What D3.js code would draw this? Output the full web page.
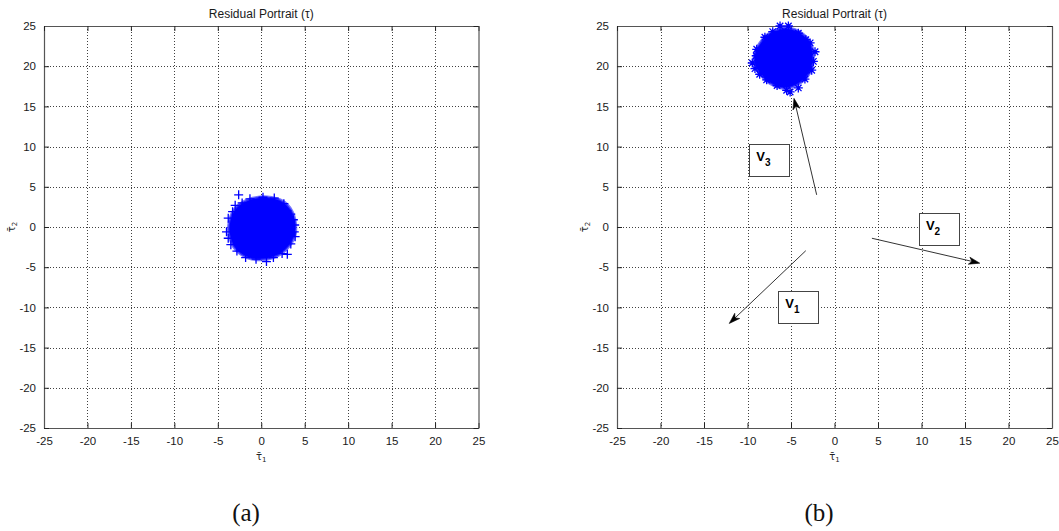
<!DOCTYPE html>
<html>
<head>
<meta charset="utf-8">
<script src="https://cdn.jsdelivr.net/npm/d3@7"></script>
<style>
  body { margin: 0; background: #fff; }
  svg { display: block; }
  text { font-family: Arial, "Liberation Sans", sans-serif; }
</style>
</head>
<body>
<svg id="fig" width="1059" height="531"></svg>
<script>
// ---- data -------------------------------------------------------------
const tickValues = [-25, -20, -15, -10, -5, 0, 5, 10, 15, 20, 25];
const axisDomain = [-25, 25];
const panelTitles = ["Residual Portrait (\u03c4)", "Residual Portrait (\u03c4)"];
const panelCaptions = ["(a)", "(b)"];

// (a) residual cloud: outline of the saturated core and individual '+' samples
const coreA = [
  [4.0,-0.2],[3.9,0.9],[3.6,1.9],[3.0,2.8],[2.2,3.4],[1.2,3.7],[0.1,3.8],[-1.0,3.6],
  [-2.0,3.2],[-2.8,2.6],[-3.4,1.7],[-3.7,0.7],[-3.8,-0.4],[-3.6,-1.5],[-3.2,-2.5],
  [-2.5,-3.3],[-1.5,-3.9],[-0.4,-4.1],[0.8,-4.0],[1.9,-3.6],[2.8,-2.9],[3.5,-2.0],[3.9,-1.1]
];
const samplesA = [
  [-2.6,4.0],[-3.0,2.7],[-3.8,1.1],[-4.0,-0.6],[-3.8,-1.4],[3.0,-3.4],[0.6,-4.3],
  [3.85,0.25],[3.8,-0.6],[3.4,1.6],[2.6,2.9],[1.5,3.6],[0.2,3.7],[-1.3,3.5],[-2.2,3.0],
  [-3.3,1.9],[-3.5,-2.2],[-2.8,-3.0],[-1.8,-3.8],[-0.6,-4.0],[1.4,-3.8],[2.4,-3.3],
  [3.4,-2.1],[3.9,-1.2],[3.7,0.9],[-0.5,0.3],[0.8,-1.1],[1.9,1.2],[-1.7,-1.4],[-2.1,0.9],
  [0.3,2.2],[1.1,-2.6],[-0.9,-2.5],[2.6,-0.4],[-2.7,-0.3],[0.0,-0.2]
];

// (b) residual cloud after the fault: outline and '*' samples
const coreB = [
  [-2.4,21.0],[-2.5,22.2],[-2.9,23.2],[-3.6,24.0],[-4.6,24.6],[-5.7,24.8],[-6.8,24.5],
  [-7.8,23.9],[-8.6,22.9],[-9.1,21.9],[-9.3,20.8],[-9.1,19.8],[-8.5,18.9],[-7.8,18.1],
  [-6.8,17.5],[-5.8,17.2],[-4.8,17.4],[-3.9,17.9],[-3.1,18.7],[-2.6,19.6]
];
const samplesB = [
  [-6.26,25.0],[-5.3,25.0],[-4.16,24.1],[-8.0,23.6],[-8.94,22.1],[-2.24,21.8],
  [-9.45,20.4],[-9.14,19.7],[-2.43,20.6],[-2.62,19.5],[-7.8,18.3],[-5.5,17.0],
  [-4.16,17.3],[-5.1,16.8],[-3.3,23.3],[-7.1,24.3],[-8.6,19.0],[-6.6,17.6],
  [-3.4,18.4],[-2.8,22.9],[-9.0,21.3],[-5.8,21.0],[-4.5,19.6],[-7.0,22.2],[-6.5,19.3],[-4.3,22.6]
];

// fault direction vectors and their labels
const vectorSubs = ["1", "2", "3"];
const vectorStart = [[-3.3,-2.95],[4.3,-1.4],[-2.05,4.0]];
const vectorEnd   = [[-12.1,-12.0],[16.7,-4.5],[-4.66,16.0]];
const labelAnchor = [[-6.46,-7.9],[9.7,1.8],[-9.8,10.3]];

// ---- drawing ----------------------------------------------------------
const svg = d3.select("#fig");
const panels = [
  { left: 44,  right: 478.5, top: 26, bottom: 428, capX: 246 },
  { left: 617, right: 1052,  top: 26, bottom: 428, capX: 819 }
];
const blue = "#0000ff";

function plusPath(x, y, r) {
  return `M${x - r},${y}H${x + r}M${x},${y - r}V${y + r}`;
}
function starPath(x, y, r) {
  const d = r * 0.72;
  return plusPath(x, y, r) + `M${x - d},${y - d}L${x + d},${y + d}M${x - d},${y + d}L${x + d},${y - d}`;
}

function drawAxes(p, i) {
  const x = d3.scaleLinear().domain(axisDomain).range([p.left, p.right]);
  const y = d3.scaleLinear().domain(axisDomain).range([p.bottom, p.top]);
  const g = svg.append("g");

  // dotted grid
  const grid = g.append("g").attr("stroke", "#000").attr("stroke-width", 1)
    .attr("stroke-dasharray", "1,2").attr("shape-rendering", "crispEdges");
  tickValues.slice(1, -1).forEach(v => {
    grid.append("line").attr("x1", Math.round(x(v)) + 0.5).attr("x2", Math.round(x(v)) + 0.5)
      .attr("y1", p.top).attr("y2", p.bottom).attr("stroke-opacity", 0.75);
    grid.append("line").attr("y1", Math.round(y(v)) + 0.5).attr("y2", Math.round(y(v)) + 0.5)
      .attr("x1", p.left).attr("x2", p.right).attr("stroke-opacity", 0.75);
  });

  // frame with inward ticks on all four sides; plain hyphen minus signs
  const tickLen = 5;
  const plain = d => String(d);
  const bottomAxis = d3.axisBottom(x).tickValues(tickValues).tickFormat(plain)
    .tickSizeInner(-tickLen).tickSizeOuter(0).tickPadding(9);
  const leftAxis = d3.axisLeft(y).tickValues(tickValues).tickFormat(plain)
    .tickSizeInner(-tickLen).tickSizeOuter(0).tickPadding(8);
  const topAxis = d3.axisTop(x).tickValues(tickValues).tickSizeInner(-tickLen).tickSizeOuter(0);
  const rightAxis = d3.axisRight(y).tickValues(tickValues).tickSizeInner(-tickLen).tickSizeOuter(0);

  const styleAxis = sel => {
    sel.selectAll("path").attr("stroke", "#555").attr("stroke-width", 1.2);
    sel.selectAll("line").attr("stroke", "#222");
    sel.selectAll("text").attr("fill", "#1a1a1a").style("font-size", "11.5px")
      .style("font-family", "Arial, 'Liberation Sans', sans-serif");
  };
  const noLabels = sel => sel.selectAll(".tick text").remove();
  g.append("g").attr("transform", `translate(0,${p.bottom})`).call(bottomAxis).call(styleAxis);
  g.append("g").attr("transform", `translate(${p.left},0)`).call(leftAxis).call(styleAxis);
  g.append("g").attr("transform", `translate(0,${p.top})`).call(topAxis).call(styleAxis).call(noLabels);
  g.append("g").attr("transform", `translate(${p.right},0)`).call(rightAxis).call(styleAxis).call(noLabels);

  // title
  g.append("text").attr("x", (p.left + p.right) / 2).attr("y", 17.5)
    .attr("text-anchor", "middle").attr("fill", "#1a1a1a").style("font-size", "12px")
    .text(panelTitles[i]);

  // x label  tau-bar sub 1
  const xl = g.append("text").attr("x", (p.left + p.right) / 2).attr("y", 460)
    .attr("text-anchor", "middle").attr("fill", "#222").style("font-size", "10px")
    .style("font-family", "'DejaVu Sans', sans-serif");
  xl.append("tspan").text("\u03c4\u0304");
  xl.append("tspan").attr("dy", 2).style("font-size", "7px").text("1");

  // y label  tau-bar sub 2 (rotated)
  const yl = g.append("text")
    .attr("transform", `translate(${p.left - 29},${(p.top + p.bottom) / 2}) rotate(-90)`)
    .attr("text-anchor", "middle").attr("fill", "#222").style("font-size", "10px")
    .style("font-family", "'DejaVu Sans', sans-serif");
  yl.append("tspan").text("\u03c4\u0304");
  yl.append("tspan").attr("dy", 2).style("font-size", "7px").text("2");

  // caption
  svg.append("text").attr("x", p.capX).attr("y", 521).attr("text-anchor", "middle")
    .attr("fill", "#111").style("font-family", "'Liberation Serif', 'DejaVu Serif', serif")
    .style("font-size", "25px").text(panelCaptions[i]);

  return { x, y, g };
}

function drawCloud(ax, core, samples, shape) {
  const line = d3.line().x(d => ax.x(d[0])).y(d => ax.y(d[1])).curve(d3.curveCardinalClosed.tension(0.3));
  ax.g.append("path").attr("d", line(core)).attr("fill", blue)
    .attr("stroke", "#3a3aff").attr("stroke-width", 2.5).attr("stroke-opacity", 0.7);
  const mk = shape === "star" ? starPath : plusPath;
  ax.g.append("path")
    .attr("d", samples.map(d => mk(ax.x(d[0]), ax.y(d[1]), 4.5)).join(""))
    .attr("fill", "none").attr("stroke", blue).attr("stroke-width", 1.3);
}

function drawVectors(ax) {
  vectorStart.forEach((s, k) => {
    const e = vectorEnd[k];
    const x0 = ax.x(s[0]), y0 = ax.y(s[1]), x1 = ax.x(e[0]), y1 = ax.y(e[1]);
    const len = Math.hypot(x1 - x0, y1 - y0);
    const ux = (x1 - x0) / len, uy = (y1 - y0) / len;
    const hl = 11, hw = 3.6;
    const bx = x1 - ux * hl, by = y1 - uy * hl;
    ax.g.append("line").attr("x1", x0).attr("y1", y0).attr("x2", bx + ux * 3).attr("y2", by + uy * 3)
      .attr("stroke", "#333").attr("stroke-width", 1);
    ax.g.append("path")
      .attr("d", `M${x1},${y1}L${bx - uy * hw},${by + ux * hw}L${bx + ux * 3},${by + uy * 3}L${bx + uy * hw},${by - ux * hw}Z`)
      .attr("fill", "#000").attr("stroke", "#000").attr("stroke-width", 0.6);

    // label box
    const a = labelAnchor[k];
    const bxl = ax.x(a[0]), byt = ax.y(a[1]);
    ax.g.append("rect").attr("x", Math.round(bxl) + 0.5).attr("y", Math.round(byt) + 0.5)
      .attr("width", 40).attr("height", 32).attr("fill", "#fff").attr("stroke", "#444").attr("stroke-width", 1);
    const t = ax.g.append("text").attr("x", bxl + 7).attr("y", byt + 17)
      .attr("fill", "#000").style("font-size", "13px").style("font-weight", "bold");
    t.append("tspan").text("V");
    t.append("tspan").attr("dy", 5).style("font-size", "10px").text(vectorSubs[k]);
  });
}

const axA = drawAxes(panels[0], 0);
drawCloud(axA, coreA, samplesA, "plus");
const axB = drawAxes(panels[1], 1);
drawCloud(axB, coreB, samplesB, "star");
drawVectors(axB);
</script>
</body>
</html>
